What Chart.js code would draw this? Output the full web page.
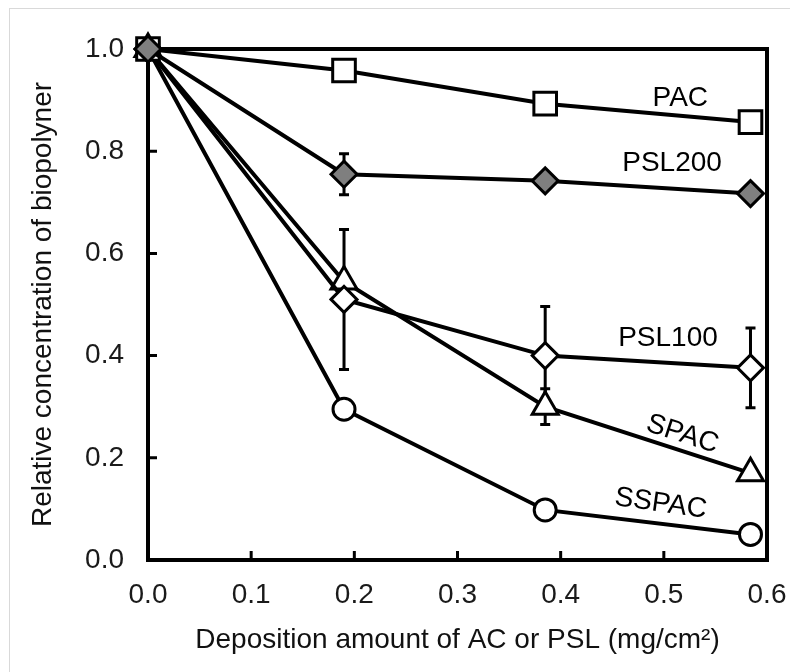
<!DOCTYPE html>
<html>
<head>
<meta charset="utf-8">
<script src="https://cdn.jsdelivr.net/npm/chart.js@4/dist/chart.umd.min.js"></script>
<style>
  html, body { margin: 0; padding: 0; background: #fff; }
  #wrap { position: relative; width: 790px; height: 672px; overflow: hidden; }
  #frame { position: absolute; left: 9px; top: 8px; width: 820px; height: 720px; border: 1px solid #d9d9d9; }
  #canvas { position: absolute; left: 0; top: 0; }
</style>
</head>
<body>
<div id="wrap">
  <div id="frame"></div>
  <canvas id="canvas" width="790" height="672"></canvas>
</div>
<script>
// deposition amount (mg/cm2)
const deposition = [0, 0.19, 0.385, 0.584];

const pac = [1.0, 0.958, 0.893, 0.857];
const psl200 = [1.0, 0.755, 0.742, 0.717];
const psl200Err = [0, 0.04, 0, 0];
const psl100 = [1.0, 0.51, 0.40, 0.376];
const psl100Err = [0, 0.137, 0.096, 0.078];
const spac = [1.0, 0.545, 0.30, 0.17];
const spacErr = [0, 0, 0.035, 0];
const sspac = [1.0, 0.295, 0.098, 0.05];

const seriesNames = ['PAC', 'PSL200', 'PSL100', 'SPAC', 'SSPAC'];

const FONT = '"Liberation Sans", Arial, sans-serif';

// where the series names sit, in data units, plus rotation in degrees
const nameSpots = {
  PAC: { x: 0.516, y: 0.904, rot: 0 },
  PSL200: { x: 0.508, y: 0.776, rot: 0 },
  PSL100: { x: 0.504, y: 0.434, rot: 0 },
  SPAC: { x: 0.518, y: 0.246, rot: 18 },
  SSPAC: { x: 0.497, y: 0.110, rot: 8 },
};

function toPoints(values) {
  return values.map((v, i) => ({ x: deposition[i], y: v }));
}

function series(label, values, style, radius, fill) {
  return {
    label: label,
    data: toPoints(values),
    borderColor: '#000',
    borderWidth: 4,
    pointStyle: style,
    pointRadius: radius,
    pointHoverRadius: radius,
    pointBorderWidth: 3,
    pointBackgroundColor: fill,
    pointBorderColor: '#000',
    clip: false,
  };
}

const errorSets = [
  { values: psl200, err: psl200Err },
  { values: psl100, err: psl100Err },
  { values: spac, err: spacErr },
];

const framePlugin = {
  id: 'frame',
  beforeDatasetsDraw(chart) {
    const { ctx, chartArea: a, scales: { x, y } } = chart;
    ctx.save();
    ctx.strokeStyle = '#000';
    // inward tick marks
    ctx.lineWidth = 3;
    ctx.beginPath();
    x.ticks.forEach((t) => {
      const px = x.getPixelForValue(t.value);
      ctx.moveTo(px, a.bottom);
      ctx.lineTo(px, a.bottom - 9);
    });
    y.ticks.forEach((t) => {
      const py = y.getPixelForValue(t.value);
      ctx.moveTo(a.left, py);
      ctx.lineTo(a.left + 9, py);
    });
    ctx.stroke();
    // box
    ctx.lineWidth = 4;
    ctx.strokeRect(a.left, a.top, a.right - a.left, a.bottom - a.top);

    // error bars, under the markers
    ctx.lineWidth = 3;
    errorSets.forEach((s) => {
      s.err.forEach((e, i) => {
        if (!e) return;
        const px = x.getPixelForValue(deposition[i]);
        const top = y.getPixelForValue(s.values[i] + e);
        const bot = y.getPixelForValue(s.values[i] - e);
        ctx.beginPath();
        ctx.moveTo(px, top);
        ctx.lineTo(px, bot);
        ctx.moveTo(px - 5, top);
        ctx.lineTo(px + 5, top);
        ctx.moveTo(px - 5, bot);
        ctx.lineTo(px + 5, bot);
        ctx.stroke();
      });
    });
    ctx.restore();
  },
  afterDatasetsDraw(chart) {
    const { ctx, scales: { x, y } } = chart;
    ctx.save();
    ctx.fillStyle = '#000';
    ctx.font = '28px ' + FONT;
    ctx.textAlign = 'center';
    ctx.textBaseline = 'middle';
    seriesNames.forEach((name) => {
      const s = nameSpots[name];
      ctx.save();
      ctx.translate(x.getPixelForValue(s.x), y.getPixelForValue(s.y));
      ctx.rotate((s.rot * Math.PI) / 180);
      ctx.fillText(name, 0, 0);
      ctx.restore();
    });
    ctx.restore();
  },
};

const canvas = document.getElementById('canvas');

new Chart(canvas, {
  type: 'line',
  data: {
    datasets: [
      series('PSL200', psl200, 'rectRot', 13, '#7f7f7f'),
      series('PAC', pac, 'rect', 16, '#fff'),
      series('PSL100', psl100, 'rectRot', 13, '#fff'),
      series('SPAC', spac, 'triangle', 15, '#fff'),
      series('SSPAC', sspac, 'circle', 11, '#fff'),
    ],
  },
  options: {
    responsive: false,
    animation: false,
    layout: { padding: { top: 49, right: 23, left: 0, bottom: 0 } },
    plugins: {
      legend: { display: false },
      tooltip: { enabled: false },
    },
    scales: {
      x: {
        type: 'linear',
        min: 0,
        max: 0.6,
        grid: { display: false, drawTicks: false },
        border: { display: false },
        ticks: {
          stepSize: 0.1,
          padding: 18,
          color: '#1a1a1a',
          font: { family: FONT, size: 28 },
          callback: (v) => v.toFixed(1),
        },
        title: {
          display: true,
          text: 'Deposition amount of AC or PSL (mg/cm²)',
          color: '#111',
          font: { family: FONT, size: 28 },
          padding: { top: 0, bottom: 15 },
        },
        afterFit: (s) => {
          s.height = 112;
          s.paddingLeft = 0;
          s.paddingRight = 0;
        },
      },
      y: {
        min: 0,
        max: 1,
        grid: { display: false, drawTicks: false },
        border: { display: false },
        ticks: {
          stepSize: 0.2,
          padding: 24,
          color: '#1a1a1a',
          font: { family: FONT, size: 28 },
          callback: (v) => v.toFixed(1),
        },
        title: {
          display: true,
          text: 'Relative concentration of biopolyner',
          color: '#111',
          font: { family: FONT, size: 28 },
          padding: { top: 26, bottom: 0 },
        },
        afterFit: (s) => {
          s.width = 148;
          s.paddingTop = 0;
          s.paddingBottom = 0;
        },
      },
    },
  },
  plugins: [framePlugin],
});
</script>
</body>
</html>
